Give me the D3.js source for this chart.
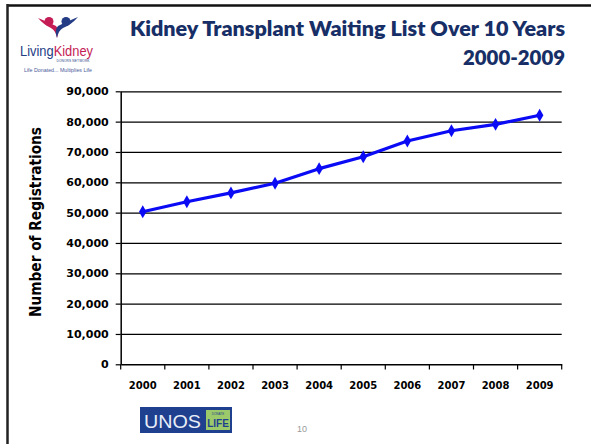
<!DOCTYPE html>
<html><head><meta charset="utf-8">
<script src="https://cdn.jsdelivr.net/npm/d3@7"></script>
<style>html,body{margin:0;padding:0;background:#fff;}svg{display:block;}</style>
</head><body>
<script>
const years = ["2000","2001","2002","2003","2004","2005","2006","2007","2008","2009"];
const registrations = [50300, 53600, 56500, 59700, 64500, 68400, 73600, 77000, 79100, 82100];
const yTicks = [0,10000,20000,30000,40000,50000,60000,70000,80000,90000];
const titleLines = ["Kidney Transplant Waiting List Over 10 Years", "2000-2009"];
const yAxisTitle = "Number of Registrations";
const pageNumber = "10";

const W = 591, H = 444;
const svg = d3.select("body").append("svg").attr("width", W).attr("height", H);

// slide frame
svg.append("line").attr("x1", 7).attr("x2", W).attr("y1", 5.5).attr("y2", 5.5).attr("stroke", "#111").attr("stroke-width", 2.5);
svg.append("line").attr("x1", 7.5).attr("x2", 7.5).attr("y1", 4).attr("y2", H).attr("stroke", "#222").attr("stroke-width", 2.5);

// title
const navy = "#172F66";
svg.append("text").attr("x", 565).attr("y", 36).attr("text-anchor", "end")
  .attr("font-family", "Lato, 'Open Sans', sans-serif").attr("font-weight", 800).attr("font-size", 21)
  .attr("textLength", 435).attr("lengthAdjust", "spacingAndGlyphs")
  .attr("fill", navy).text(titleLines[0]);
svg.append("text").attr("x", 565).attr("y", 65).attr("text-anchor", "end")
  .attr("font-family", "Lato, 'Open Sans', sans-serif").attr("font-weight", 800).attr("font-size", 21)
  .attr("textLength", 102).attr("lengthAdjust", "spacingAndGlyphs")
  .attr("fill", navy).text(titleLines[1]);

// Living Kidney logo
const lg = svg.append("g");
const crimson = "#C41C55", lnavy = "#243C85";
lg.append("circle").attr("cx", 49).attr("cy", 21.5).attr("r", 4.5).attr("fill", crimson);
lg.append("circle").attr("cx", 66).attr("cy", 21.5).attr("r", 4.5).attr("fill", lnavy);
lg.append("path").attr("d", "M38,18 Q44,25 51,28 Q56,31 57,38 Q60,30 56,26 Q48,22 38,18Z").attr("fill", crimson);
lg.append("path").attr("d", "M78,17 Q71,25 63,28 Q58,31 57,38 Q54,30 58,26 Q66,22 78,17Z").attr("fill", lnavy);
lg.append("text").attr("x", 20).attr("y", 56).attr("font-family", "'Liberation Sans', Arial, sans-serif")
  .attr("font-size", 14).attr("font-weight", 400).attr("textLength", 73).attr("lengthAdjust", "spacingAndGlyphs")
  .call(t => { t.append("tspan").attr("fill", lnavy).text("Living"); t.append("tspan").attr("fill", crimson).text("Kidney"); });
lg.append("text").attr("x", 73).attr("y", 62).attr("text-anchor", "middle").attr("font-family", "'Liberation Sans', sans-serif")
  .attr("font-size", 3.2).attr("fill", lnavy).attr("textLength", 33).text("DONORS NETWORK");
lg.append("text").attr("x", 24).attr("y", 72).attr("font-family", "'Liberation Sans', sans-serif")
  .attr("font-size", 5).attr("fill", "#4a5a9a").attr("textLength", 68).attr("lengthAdjust", "spacingAndGlyphs")
  .text("Life Donated... Multiplies Life");

// chart
const x = d3.scaleBand().domain(years).range([120.7, 561.7]);
const y = d3.scaleLinear().domain([0, 90000]).range([364.3, 91.3]);

// gridlines
svg.append("g").attr("transform", "translate(120.7,0)")
  .call(d3.axisLeft(y).tickValues(yTicks.filter(d => d > 0)).tickSize(-(561.7 - 120.7)).tickFormat(""))
  .call(g => g.select(".domain").remove())
  .call(g => g.selectAll("line").attr("stroke", "#000").attr("stroke-width", 1.2));

// y axis
const yAxis = svg.append("g").attr("transform", "translate(120.7,0)")
  .call(d3.axisLeft(y).tickValues(yTicks).tickSize(5).tickSizeOuter(0).tickPadding(6).tickFormat(d3.format(",")));
yAxis.select(".domain").attr("stroke", "#000").attr("stroke-width", 1.5);
yAxis.selectAll("line").attr("stroke", "#000").attr("stroke-width", 1.2);
yAxis.selectAll("text").attr("font-family", "'DejaVu Sans', Verdana, sans-serif").attr("font-weight", 700)
  .attr("font-size", 11).attr("fill", "#000").attr("x", -12);

// x axis
const xAxis = svg.append("g").attr("transform", "translate(0,364.3)")
  .call(d3.axisBottom(x).tickSize(0).tickPadding(18));
xAxis.select(".domain").attr("stroke", "#000").attr("stroke-width", 1.5);
xAxis.selectAll("text").attr("font-family", "'DejaVu Sans', Verdana, sans-serif").attr("font-weight", 700)
  .attr("font-size", 10).attr("fill", "#000");
// boundary ticks between categories
const bounds = years.map(d => x(d)).concat([x(years[years.length - 1]) + x.bandwidth()]);
svg.append("g").selectAll("line").data(bounds).join("line")
  .attr("x1", d => d).attr("x2", d => d).attr("y1", 364.3).attr("y2", 369.5)
  .attr("stroke", "#000").attr("stroke-width", 1.2);

// y axis title
svg.append("text").attr("transform", "translate(41,222) rotate(-90)").attr("text-anchor", "middle")
  .attr("font-family", "'DejaVu Sans', Verdana, sans-serif").attr("font-weight", 700).attr("font-size", 15)
  .attr("textLength", 190).attr("lengthAdjust", "spacingAndGlyphs").attr("fill", "#000").text(yAxisTitle);

// series
const cx = d => x(d) + x.bandwidth() / 2;
const line = d3.line().x((d, i) => cx(years[i])).y(d => y(d));
svg.append("path").datum(registrations).attr("d", line).attr("fill", "none")
  .attr("stroke", "#0A0AF5").attr("stroke-width", 3.2).attr("stroke-linejoin", "round");
svg.append("g").selectAll("path").data(registrations).join("path")
  .attr("transform", (d, i) => `translate(${cx(years[i])},${y(d)})`)
  .attr("d", d3.symbol().type(d3.symbolDiamond).size(48)).attr("fill", "#0A0AF5");

// UNOS logo
const ug = svg.append("g");
ug.append("rect").attr("x", 140).attr("y", 407).attr("width", 92).attr("height", 26).attr("fill", "#1F3F8F");
ug.append("text").attr("x", 144).attr("y", 428).attr("font-family", "'Liberation Sans', sans-serif")
  .attr("font-size", 19).attr("fill", "#E8EEF8").attr("textLength", 57).attr("lengthAdjust", "spacingAndGlyphs").text("UNOS");
ug.append("rect").attr("x", 206).attr("y", 410).attr("width", 24).attr("height", 20).attr("fill", "#9CC96A");
ug.append("text").attr("x", 218).attr("y", 415).attr("text-anchor", "middle").attr("font-family", "'Liberation Sans', sans-serif")
  .attr("font-size", 3).attr("fill", "#1F3F8F").text("DONATE");
ug.append("text").attr("x", 218).attr("y", 427).attr("text-anchor", "middle").attr("font-family", "'Liberation Sans', sans-serif")
  .attr("font-weight", 700).attr("font-size", 10).attr("fill", "#1F3F8F").text("LIFE");

// page number
svg.append("text").attr("x", 302).attr("y", 432).attr("text-anchor", "middle")
  .attr("font-family", "'Liberation Sans', sans-serif").attr("font-size", 9).attr("fill", "#999").text(pageNumber);
</script>
</body></html>
